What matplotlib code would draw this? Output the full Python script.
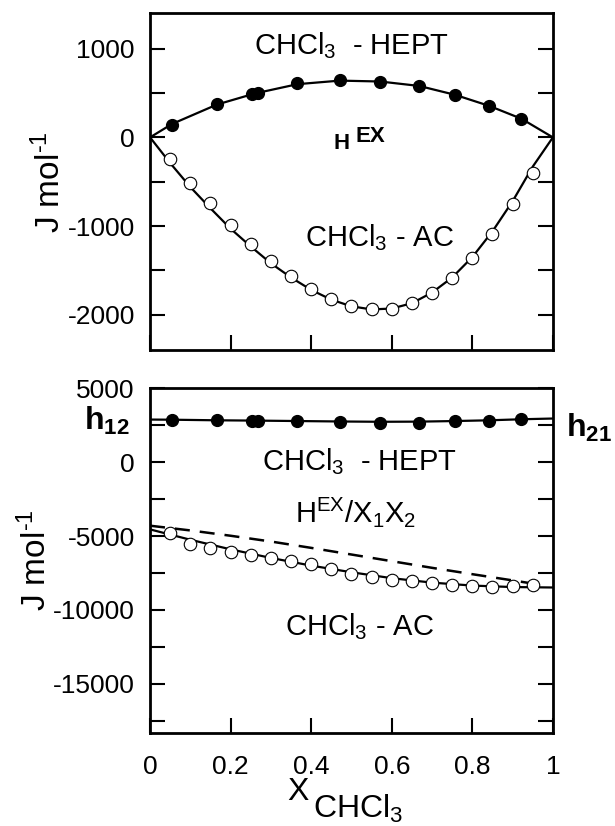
import numpy as np
import matplotlib
matplotlib.use("Agg")
import matplotlib.pyplot as plt
from matplotlib.ticker import MultipleLocator

plt.rcParams['font.family'] = ['Liberation Sans', 'DejaVu Sans']
plt.rcParams['mathtext.fontset'] = 'custom'
plt.rcParams['mathtext.rm'] = 'Liberation Sans'
plt.rcParams['mathtext.it'] = 'Liberation Sans'
plt.rcParams['mathtext.bf'] = 'Liberation Sans:bold'
plt.rcParams['axes.unicode_minus'] = False

#############################################################################
# DATA
#############################################################################

# top panel: H^EX
x_hept = [0.054, 0.166, 0.252, 0.267, 0.366, 0.471, 0.571, 0.668, 0.757, 0.842, 0.922]
hex_hept = [140, 375, 485, 505, 610, 650, 625, 575, 480, 355, 205]
x_hept_line = [0.0, 0.054, 0.166, 0.26, 0.366, 0.471, 0.571, 0.668, 0.757, 0.842, 0.922, 1.0]
hex_hept_line = [0, 150, 370, 495, 600, 640, 630, 580, 480, 355, 210, 0]

x_ac = [0.05, 0.10, 0.15, 0.20, 0.25, 0.30, 0.35, 0.40, 0.45, 0.50,
        0.55, 0.60, 0.65, 0.70, 0.75, 0.80, 0.85, 0.90, 0.95]
hex_ac = [-240, -515, -745, -985, -1200, -1390, -1560, -1710, -1825, -1905,
          -1935, -1935, -1870, -1755, -1585, -1355, -1085, -755, -400]
x_ac_line = [0.0, 0.05, 0.10, 0.15, 0.20, 0.25, 0.30, 0.35, 0.40, 0.45, 0.50,
             0.55, 0.60, 0.65, 0.70, 0.75, 0.80, 0.85, 0.90, 0.95, 1.0]
hex_ac_line = [0, -290, -560, -800, -1030, -1230, -1420, -1580, -1720, -1830, -1905,
               -1940, -1930, -1870, -1750, -1580, -1350, -1060, -720, -330, 0]

# bottom panel: H^EX / x1 x2
hx_hept = [2870, 2830, 2800, 2800, 2750, 2700, 2650, 2680, 2750, 2800, 2950]
hx_hept_line = [2880, 2870, 2830, 2810, 2780, 2750, 2730, 2740, 2780, 2830, 2900, 2950]

hx_ac = [-4760, -5560, -5830, -6050, -6280, -6510, -6690, -6920, -7260, -7550,
         -7750, -7940, -8050, -8160, -8320, -8390, -8460, -8390, -8320]
x_ac_fit = [0.0, 0.1, 0.2, 0.3, 0.4, 0.5, 0.6, 0.7, 0.8, 0.9, 1.0]
hx_ac_fit = [-4550, -5250, -5900, -6480, -7000, -7450, -7850, -8150, -8350, -8450, -8480]
x_ac_dash = [0.0, 0.1, 0.2, 0.3, 0.4, 0.5, 0.6, 0.7, 0.8, 0.9, 0.97]
hx_ac_dash = [-4300, -4620, -4980, -5370, -5800, -6250, -6700, -7150, -7580, -8000, -8300]

xticks = [0, 0.2, 0.4, 0.6, 0.8, 1.0]
xtick_labels = ['0', '0.2', '0.4', '0.6', '0.8', '1']


def style_axes(ax, ylim, major, minor):
	ax.set_xlim(0, 1)
	ax.set_ylim(*ylim)
	ax.yaxis.set_major_locator(MultipleLocator(major))
	ax.yaxis.set_minor_locator(MultipleLocator(minor))
	ax.set_xticks(xticks)
	ax.tick_params(axis='y', which='both', direction='in', left=True, right=True,
		length=11, width=1.5, labelsize=19, pad=11)
	ax.tick_params(axis='x', which='both', direction='in', top=False, bottom=True,
		length=11, width=1.5, labelsize=19, pad=16)
	for s in ax.spines.values():
		s.set_linewidth(2.0)


fig = plt.figure(figsize=(6.15, 8.26), dpi=100)
ax1 = fig.add_axes([0.244, 0.576, 0.655, 0.408])
ax2 = fig.add_axes([0.244, 0.113, 0.655, 0.417])

ylabel = 'J mol$^{\\mathregular{\u20101}}$'

#############################################################################
# TOP PANEL
#############################################################################
ax1.plot(x_hept_line, hex_hept_line, '-', color='black', lw=1.6)
ax1.plot(x_hept, hex_hept, 'o', color='black', ms=8.5)
ax1.plot(x_ac_line, hex_ac_line, '-', color='black', lw=1.6)
ax1.plot(x_ac, hex_ac, 'o', mfc='white', mec='black', mew=0.8, ms=9)
style_axes(ax1, (-2400, 1400), 1000, 500)
ax1.set_xticklabels([])
ax1.set_ylabel(ylabel, fontsize=24, labelpad=0)
ax1.text(0.5, 0.905, r'CHCl$_3$  - HEPT', transform=ax1.transAxes, ha='center', va='center', fontsize=21)
ax1.text(0.476, 0.612, 'H', transform=ax1.transAxes, ha='center', va='center', fontsize=16, fontweight='bold')
ax1.text(0.548, 0.635, 'EX', transform=ax1.transAxes, ha='center', va='center', fontsize=16, fontweight='bold')
ax1.text(0.571, 0.335, r'CHCl$_3$ - AC', transform=ax1.transAxes, ha='center', va='center', fontsize=21)

#############################################################################
# BOTTOM PANEL
#############################################################################
ax2.plot(x_hept_line, hx_hept_line, '-', color='black', lw=1.6)
ax2.plot(x_hept, hx_hept, 'o', color='black', ms=8.5)
ax2.plot(x_ac_fit, hx_ac_fit, '-', color='black', lw=1.6)
ax2.plot(x_ac_dash, hx_ac_dash, '--', color='black', lw=1.8, dashes=(6, 4))
ax2.plot(x_ac, hx_ac, 'o', mfc='white', mec='black', mew=0.8, ms=9)
style_axes(ax2, (-18300, 5000), 5000, 2500)
ax2.set_xticklabels(xtick_labels)
ax2.set_ylabel(ylabel, fontsize=24, labelpad=0)
ax2.text(0.52, 0.786, r'CHCl$_3$  - HEPT', transform=ax2.transAxes, ha='center', va='center', fontsize=21)
ax2.text(0.51, 0.64, r'H$^{\mathregular{EX}}$/X$_1$X$_2$', transform=ax2.transAxes, ha='center', va='center', fontsize=21)
ax2.text(0.52, 0.307, r'CHCl$_3$ - AC', transform=ax2.transAxes, ha='center', va='center', fontsize=21)
ax2.text(-0.107, 0.905, r'$\mathbf{h_{12}}$', transform=ax2.transAxes, ha='center', va='center', fontsize=23)
ax2.text(1.09, 0.885, r'$\mathbf{h_{21}}$', transform=ax2.transAxes, ha='center', va='center', fontsize=23)

# x label: subscript is nearly as large as the X in the original
fig.text(298 / 615, 1 - 792 / 826, 'X', ha='center', va='center', fontsize=23)
fig.text(313 / 615, 1 - 809 / 826, r'CHCl$_3$', ha='left', va='center', fontsize=23)

plt.savefig('out.png', dpi=100)
